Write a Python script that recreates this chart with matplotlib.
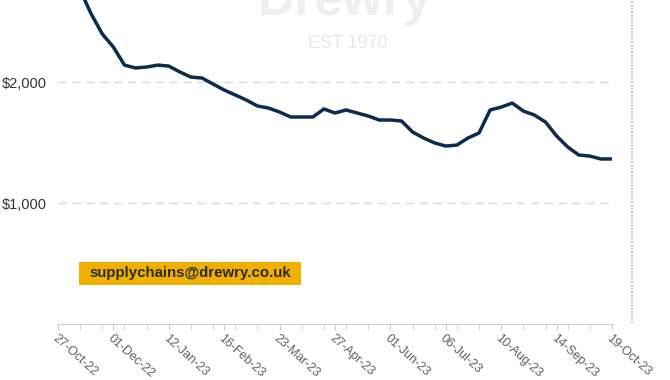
import numpy as np
import matplotlib.pyplot as plt
from matplotlib.lines import Line2D
from matplotlib.patches import Rectangle

# Weekly rate, 27-Oct-22 to 19-Oct-23
rates = [3250, 3000, 2760, 2562, 2397, 2289, 2140, 2116, 2124, 2140,
         2132, 2083, 2041, 2033, 1983, 1934, 1893, 1851, 1802, 1785,
         1752, 1711, 1711, 1711, 1777, 1744, 1769, 1744, 1719, 1686,
         1686, 1678, 1587, 1537, 1496, 1471, 1479, 1537, 1579, 1769,
         1793, 1826, 1760, 1727, 1669, 1554, 1463, 1397, 1388, 1364,
         1364]
date_labels = ['27-Oct-22', '01-Dec-22', '12-Jan-23', '16-Feb-23', '23-Mar-23',
               '27-Apr-23', '01-Jun-23', '06-Jul-23', '10-Aug-23', '14-Sep-23',
               '19-Oct-23']
y_ticks = [1000, 2000]
y_labels = ['$1,000', '$2,000']

plt.rcParams['font.family'] = ['Liberation Sans', 'DejaVu Sans']

fig = plt.figure(figsize=(6.7, 3.8), dpi=100)
ax = fig.add_axes([58/670, 56/380, 554/670, 324/380])

x = np.arange(len(rates))

# Watermark
fig.text(345/670, 1 - 15/380, 'Drewry', fontsize=37, fontweight='bold',
         color='#efefef', ha='center', va='baseline', zorder=0)
fig.text(348/670, 1 - 43/380, 'EST 1970', fontsize=13, color='#e8e8e8',
         ha='center', va='center', zorder=0)

for yv in y_ticks:
    ax.axhline(yv, color='#d9d9d9', lw=1, ls=(0, (6, 4)), zorder=1)

ax.plot(x, rates, color='#0d2b4e', lw=2.5, solid_joinstyle='round',
        solid_capstyle='round', zorder=3)

ax.set_xlim(0, len(rates) - 1)
ax.set_ylim(0, 2678)

ax.set_xticks(x[::5])
ax.set_xticklabels(date_labels, rotation=-42, ha='left', va='top',
                   rotation_mode='anchor', fontsize=9, color='#606060')
ax.set_xticks(x[::2], minor=True)
ax.tick_params(axis='x', which='both', length=4, color='#cccccc', pad=2)

ax.set_yticks(y_ticks)
ax.set_yticklabels(y_labels, fontsize=10.5, color='#333333')
ax.tick_params(axis='y', length=0, pad=8)

for s in ['top', 'right', 'left']:
    ax.spines[s].set_visible(False)
ax.spines['bottom'].set_color('#d0d0d0')

# Email label
fig.add_artist(Rectangle((79/670, 1 - 285/380), 222/670, 23/380,
                         transform=fig.transFigure, fc='#f0b000', ec='none'))
fig.text(190/670, 1 - 273.5/380, 'supplychains@drewry.co.uk', fontsize=10.8,
         fontweight='bold', color='#2b2b2b', ha='center', va='center')

# Dotted marker line at right
fig.add_artist(Line2D([632/670, 632/670], [1 - 323/380, 1], color='#8cc3d8',
                      lw=1.2, ls=(0, (1, 1))))

fig.savefig('out.png', dpi=100)
